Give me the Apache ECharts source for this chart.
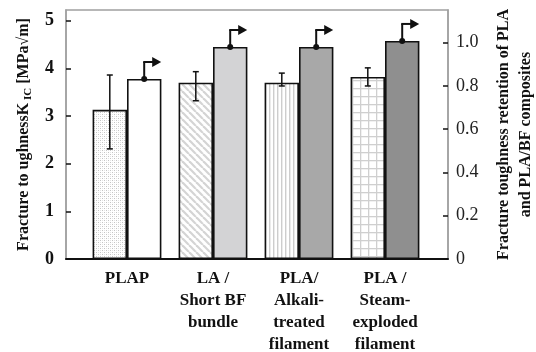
<!DOCTYPE html>
<html>
<head>
<meta charset="utf-8">
<script src="https://cdn.jsdelivr.net/npm/echarts@6/dist/echarts.min.js"></script>
<style>
  html, body { margin: 0; padding: 0; background: #fff; }
  #chart { width: 536px; height: 352px; }
</style>
</head>
<body>
<div id="chart"></div>
<script>
// Fracture toughness of PLA and PLA/BF composites
const categories = ['PLAP', 'LA /\nShort BF\nbundle', 'PLA/\nAlkali-\ntreated\nfilament', 'PLA /\nSteam-\nexploded\nfilament'];
const kic = [3.13, 3.70, 3.70, 3.82];           // K_IC [MPa√m]
const kicErrPlus = [0.73, 0.23, 0.20, 0.19];
const kicErrMinus = [0.82, 0.38, 0.07, 0.19];
const retention = [0.832, 0.98, 0.98, 1.008];   // toughness retention
const kicTicks = [0, 1, 2, 3, 4, 5];
const retentionTicks = [0, 0.2, 0.4, 0.6, 0.8, 1.0];

const KIC_MAX = 5.224;
const RET_MAX = 1.151;
const SERIF = '"Liberation Serif", "Times New Roman", serif';

// Fill patterns for the K_IC bars
function makePattern(w, h, draw) {
  const c = document.createElement('canvas');
  c.width = w; c.height = h;
  const g = c.getContext('2d');
  g.fillStyle = '#ffffff';
  g.fillRect(0, 0, w, h);
  draw(g, w, h);
  return { image: c, repeat: 'repeat' };
}
const stipple = makePattern(4, 4, (g) => {
  g.fillStyle = '#c4c4c4';
  g.fillRect(0, 0, 1, 1); g.fillRect(2, 2, 1, 1);
  g.fillStyle = '#e4e4e4';
  g.fillRect(2, 0, 1, 1); g.fillRect(0, 2, 1, 1);
});
const hatch = makePattern(7, 7, (g, w, h) => {
  g.strokeStyle = '#d4d4d4';
  g.lineWidth = 2.2;
  for (let k = -1; k <= 1; k++) {
    g.beginPath();
    g.moveTo(k * w, 0);
    g.lineTo(k * w + w, h);
    g.stroke();
  }
});
const vlines = makePattern(4, 4, (g) => {
  g.fillStyle = '#cdcdcd';
  g.fillRect(1, 0, 1.4, 4);
});
const gridPat = makePattern(8, 8, (g) => {
  g.fillStyle = '#cfcfcf';
  g.fillRect(0, 0, 8, 1.3);
  g.fillRect(0, 0, 1.3, 8);
});

const kicFills = [stipple, hatch, vlines, gridPat];
const retentionFills = ['#ffffff', '#d3d3d5', '#a8a8a8', '#8f8f8f'];

const chart = echarts.init(document.getElementById('chart'), null, { renderer: 'canvas' });

const frameGrid = {
  left: 66, right: 88, top: 10, bottom: 93, outerBoundsMode: 'none', containLabel: false,
  show: true, borderColor: '#a0a0a0', borderWidth: 1.5, backgroundColor: 'transparent'
};
const barGrid = { left: 84, right: 108, top: 10, bottom: 93, outerBoundsMode: 'none', containLabel: false };

const option = {
  animation: false,
  backgroundColor: '#ffffff',
  grid: [frameGrid, barGrid],
  xAxis: [
    {
      gridIndex: 0, type: 'value', min: 0, max: 1,
      axisLine: { show: true, onZero: false, lineStyle: { color: '#111', width: 2 } },
      axisTick: { show: false }, axisLabel: { show: false }, splitLine: { show: false }
    },
    {
      gridIndex: 1, type: 'category', data: categories,
      axisLine: { show: false }, axisTick: { show: false }, splitLine: { show: false },
      axisLabel: {
        interval: 0, margin: 9, color: '#111',
        fontFamily: SERIF, fontWeight: 'bold', fontSize: 17, lineHeight: 22,
        verticalAlign: 'top'
      }
    }
  ],
  yAxis: [
    {
      gridIndex: 0, type: 'value', min: 0, max: KIC_MAX, position: 'left',
      axisLine: { show: true, lineStyle: { color: '#a0a0a0', width: 1.5 } },
      axisTick: { show: true, inside: true, length: 5, customValues: kicTicks, lineStyle: { color: '#111', width: 1.5 } },
      axisLabel: {
        customValues: kicTicks, margin: 12, color: '#111',
        fontFamily: SERIF, fontWeight: 'bold', fontSize: 18
      },
      splitLine: { show: false },
      name: '{t|Fracture to ughnessK}{s| IC}{t| [MPa√m]}',
      nameLocation: 'middle', nameRotate: 90, nameGap: 31,
      nameTextStyle: {
        color: '#111', fontFamily: SERIF, fontWeight: 'bold', fontSize: 16,
        rich: {
          t: { fontFamily: SERIF, fontWeight: 'bold', fontSize: 16, color: '#111' },
          s: { fontFamily: SERIF, fontWeight: 'bold', fontSize: 11, color: '#111', padding: [9, 0, 0, 0] }
        }
      }
    },
    {
      gridIndex: 0, type: 'value', min: 0, max: RET_MAX, position: 'right',
      axisLine: { show: true, lineStyle: { color: '#a0a0a0', width: 1.5 } },
      axisTick: { show: true, inside: true, length: 5, customValues: retentionTicks, lineStyle: { color: '#111', width: 1.5 } },
      axisLabel: {
        customValues: retentionTicks, margin: 8, color: '#222',
        fontFamily: SERIF, fontSize: 18,
        formatter: (v) => (v === 0 ? '0' : v.toFixed(1))
      },
      splitLine: { show: false },
      name: 'Fracture toughness retention of PLA\nand PLA/BF composites',
      nameLocation: 'middle', nameRotate: 90, nameGap: 45,
      nameTextStyle: {
        color: '#111', fontFamily: SERIF, fontWeight: 'bold', fontSize: 16, lineHeight: 22
      }
    },
    { gridIndex: 1, type: 'value', min: 0, max: KIC_MAX, show: false },
    { gridIndex: 1, type: 'value', min: 0, max: RET_MAX, show: false }
  ],
  series: [
    {
      name: 'KIC', type: 'bar', xAxisIndex: 1, yAxisIndex: 2,
      barCategoryGap: '20%', barGap: '0%',
      data: kic.map((v, i) => ({ value: v, itemStyle: { color: kicFills[i] } })),
      itemStyle: { borderColor: '#111', borderWidth: 1.6 },
      z: 2
    },
    {
      name: 'Retention', type: 'bar', xAxisIndex: 1, yAxisIndex: 3,
      barCategoryGap: '20%', barGap: '0%',
      data: retention.map((v, i) => ({ value: v, itemStyle: { color: retentionFills[i] } })),
      itemStyle: { borderColor: '#111', borderWidth: 1.6 },
      z: 2
    },
    {
      // error bars on the K_IC bars
      name: 'KIC error', type: 'custom', xAxisIndex: 1, yAxisIndex: 2, z: 5,
      data: kic.map((v, i) => [i, v, kicErrPlus[i], kicErrMinus[i]]),
      renderItem: (params, api) => {
        const i = api.value(0), v = api.value(1);
        const band = api.size([1, 0])[0];
        const x = api.coord([i, 0])[0] - band * 0.8 / 4;
        const yT = api.coord([i, v + api.value(2)])[1];
        const yB = api.coord([i, v - api.value(3)])[1];
        const st = { stroke: '#111', lineWidth: 1.5 };
        const cap = 3;
        return {
          type: 'group',
          children: [
            { type: 'line', shape: { x1: x, y1: yT, x2: x, y2: yB }, style: st },
            { type: 'line', shape: { x1: x - cap, y1: yT, x2: x + cap, y2: yT }, style: st },
            { type: 'line', shape: { x1: x - cap, y1: yB, x2: x + cap, y2: yB }, style: st }
          ]
        };
      }
    },
    {
      // dot and arrow pointing to the retention axis
      name: 'Retention marker', type: 'custom', xAxisIndex: 1, yAxisIndex: 3, z: 6, clip: false,
      data: retention.map((v, i) => [i, v]),
      renderItem: (params, api) => {
        const i = api.value(0), v = api.value(1);
        const band = api.size([1, 0])[0];
        const x = api.coord([i, 0])[0] + band * 0.8 / 4;
        const y = api.coord([i, v])[1];
        const yA = y - 17;
        const st = { stroke: '#111', lineWidth: 2 };
        return {
          type: 'group',
          children: [
            { type: 'circle', shape: { cx: x, cy: y, r: 3 }, style: { fill: '#111' } },
            { type: 'line', shape: { x1: x, y1: y, x2: x, y2: yA }, style: st },
            { type: 'line', shape: { x1: x - 1, y1: yA, x2: x + 9, y2: yA }, style: st },
            { type: 'polygon', shape: { points: [[x + 8, yA - 5], [x + 17, yA], [x + 8, yA + 5]] }, style: { fill: '#111' } }
          ]
        };
      }
    }
  ]
};

chart.setOption(option);
</script>
</body>
</html>
